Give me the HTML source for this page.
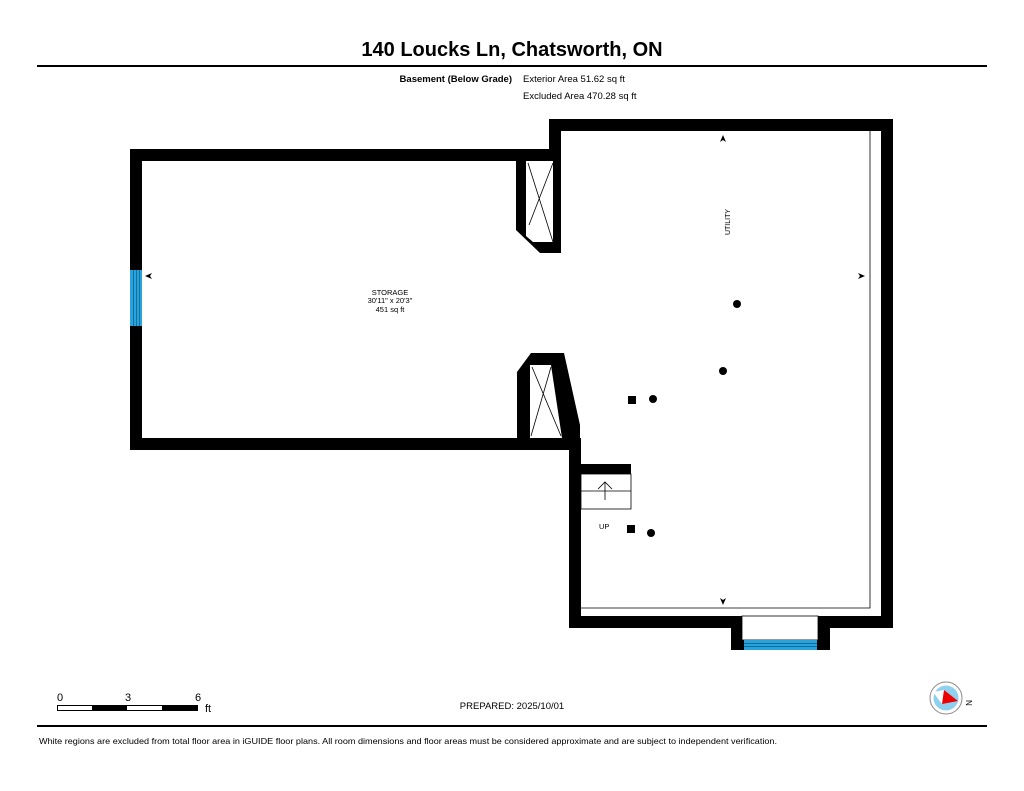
<!DOCTYPE html>
<html><head><meta charset="utf-8"><style>
html,body{margin:0;padding:0;background:#fff;width:1024px;height:791px;overflow:hidden}
svg{display:block;font-family:"Liberation Sans",Arial,sans-serif}
</style></head><body>
<svg width="1024" height="791" viewBox="0 0 1024 791" xmlns="http://www.w3.org/2000/svg">
<text x="512" y="56" text-anchor="middle" font-size="20" font-weight="bold">140 Loucks Ln, Chatsworth, ON</text>
<rect x="37" y="65" width="950" height="2" fill="#000"/>
<text x="512" y="82" text-anchor="end" font-size="9.5" font-weight="bold">Basement (Below Grade)</text>
<text x="523" y="82" font-size="9.5">Exterior Area 51.62 sq ft</text>
<text x="523" y="99" font-size="9.5">Excluded Area 470.28 sq ft</text>

<g fill="#000">
<rect x="130" y="149" width="12" height="301"/>
<rect x="130" y="149" width="431" height="12"/>
<rect x="130" y="438" width="451" height="12"/>
<rect x="549" y="119" width="344" height="12"/>
<rect x="549" y="119" width="12" height="42"/>
<rect x="881" y="119" width="12" height="509"/>
<rect x="569" y="616" width="324" height="12"/>
<rect x="569" y="438" width="12" height="190"/>
<path d="M516 149 H561 V253 H540 L516 230 Z M526 161 V236 L533 242 H553 V161 Z" fill-rule="evenodd"/>
<path d="M517 372 L531 353 H564 L580 425 V450 H517 Z M530 365 V438 H562 L551 365 Z" fill-rule="evenodd"/>
<rect x="731" y="616" width="99" height="34"/>
<rect x="581" y="464" width="50" height="10"/>
</g>
<rect x="742" y="616" width="76" height="24" fill="#fff" stroke="#000" stroke-width="0.8"/>
<rect x="744" y="640" width="73" height="10" fill="#29a3dd"/>
<path d="M744 643.5H817M744 646.5H817" stroke="#0a5a80" stroke-width="0.7"/>
<rect x="130" y="270" width="12" height="56" fill="#29a3dd"/>
<path d="M133.5 270V326M136.5 270V326M139.5 270V326" stroke="#0a5a80" stroke-width="0.7"/>

<g stroke="#000" stroke-width="0.8" fill="none">
<path d="M528 163 L553 242 M553 163 L529 225"/>
<path d="M532 367 L561 436 M551 367 L531 436"/>
<path d="M870 131 V608 H581"/>
<rect x="581" y="474" width="50" height="35"/>
<path d="M581 491 H631 M605 500 V482 M598 489 L605 482 L612 489"/>
</g>

<g fill="#000">
<path d="M723 135 L720 142 L723 140 L726 142 Z"/>
<path d="M865 276 L858 273 L860 276 L858 279 Z"/>
<path d="M723 605 L720 598 L723 600 L726 598 Z"/>
<path d="M145 276 L152 273 L150 276 L152 279 Z"/>
<circle cx="737" cy="304" r="4"/>
<circle cx="723" cy="371" r="4"/>
<circle cx="653" cy="399" r="4"/>
<rect x="628" y="396" width="8" height="8"/>
<rect x="627" y="525" width="8" height="8"/>
<circle cx="651" cy="533" r="4"/>
</g>

<text x="390" y="295" text-anchor="middle" font-size="7.5">STORAGE</text>
<text x="390" y="303" text-anchor="middle" font-size="7.5">30'11" x 20'3"</text>
<text x="390" y="312" text-anchor="middle" font-size="7.5">451 sq ft</text>
<text transform="translate(730,222) rotate(-90)" text-anchor="middle" font-size="7">UTILITY</text>
<text x="599" y="529" font-size="7.5">UP</text>

<text x="60" y="701" text-anchor="middle" font-size="11">0</text>
<text x="128" y="701" text-anchor="middle" font-size="11">3</text>
<text x="198" y="701" text-anchor="middle" font-size="11">6</text>
<rect x="57.5" y="705.5" width="140" height="5" fill="#fff" stroke="#000" stroke-width="1"/>
<rect x="92" y="705" width="35" height="6" fill="#000"/>
<rect x="162" y="705" width="36" height="6" fill="#000"/>
<text x="205" y="712" font-size="11">ft</text>
<text x="512" y="709" text-anchor="middle" font-size="9.5">PREPARED: 2025/10/01</text>

<circle cx="946" cy="698" r="16" fill="#fff" stroke="#888" stroke-width="1"/>
<circle cx="946" cy="698" r="12.5" fill="#8fd0ef"/>
<path d="M933 692 L944 690 L946 698 L942 704 Z" fill="#fff"/>
<path d="M944 690 L958 701 L942 704 Z" fill="#e00"/>
<text transform="translate(966,700) rotate(90)" font-size="8">N</text>

<rect x="37" y="725" width="950" height="2" fill="#000"/>
<text x="39" y="744" font-size="8.5" textLength="738" lengthAdjust="spacingAndGlyphs">White regions are excluded from total floor area in iGUIDE floor plans. All room dimensions and floor areas must be considered approximate and are subject to independent verification.</text>
</svg>
</body></html>
